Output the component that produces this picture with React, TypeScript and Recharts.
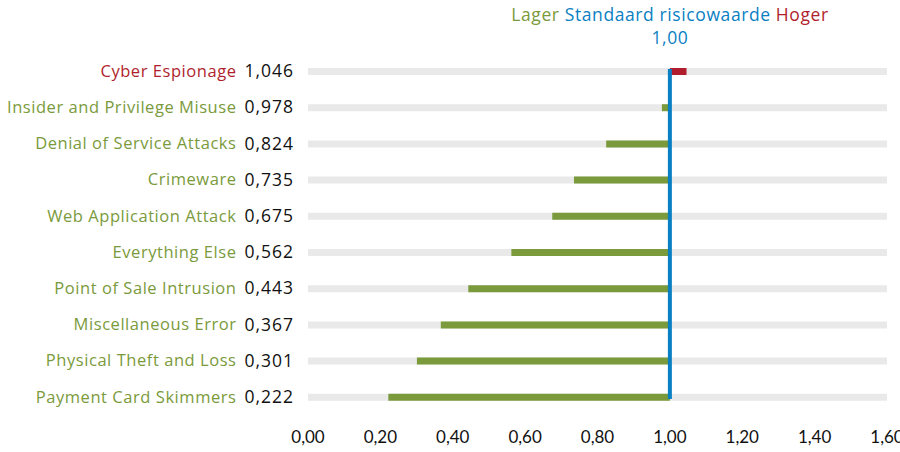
import React from 'react';
import { BarChart, Bar, XAxis, YAxis, Cell, ReferenceLine } from 'recharts';

const categories = [
  'Cyber Espionage',
  'Insider and Privilege Misuse',
  'Denial of Service Attacks',
  'Crimeware',
  'Web Application Attack',
  'Everything Else',
  'Point of Sale Intrusion',
  'Miscellaneous Error',
  'Physical Theft and Loss',
  'Payment Card Skimmers',
];
const values = [1.046, 0.978, 0.824, 0.735, 0.675, 0.562, 0.443, 0.367, 0.301, 0.222];
const xTicks = [0, 0.2, 0.4, 0.6, 0.8, 1.0, 1.2, 1.4, 1.6];
const baseline = 1.0;

const GREEN = '#7a9a3c';
const RED = '#b01e2d';
const BLUE = '#0a80c4';
const GREY = '#e8e9e8';
const FONT = 'Lato, "Open Sans", sans-serif';
const LABEL_FONT = '"Open Sans", Lato, sans-serif';

const data = categories.map((name, i) => ({
  name,
  value: values[i],
  range: [Math.min(values[i], baseline), Math.max(values[i], baseline)],
}));

const fmt = (v: number, d: number) => v.toFixed(d).replace('.', ',');

const YTick = (props: any) => {
  const { x, y, payload, index } = props;
  const v = values[index];
  const color = v > baseline ? RED : GREEN;
  return (
    <g>
      <text
        x={x - 71.5}
        y={y}
        dy="0.35em"
        textAnchor="end"
        fill={color}
        fontSize={16.5}
        letterSpacing={0.55}
        fontFamily={LABEL_FONT}
      >
        {payload.value}
      </text>
      <text
        x={x - 14}
        y={y}
        dy="0.35em"
        textAnchor="end"
        fill="#111"
        fontSize={17.5}
        letterSpacing={1}
        fontFamily={LABEL_FONT}
      >
        {fmt(v, 3)}
      </text>
    </g>
  );
};

export default function App() {
  return (
    <div style={{ position: 'absolute', left: 0, top: 0, width: 900, height: 452, background: '#fff', overflow: 'hidden' }}>
      <div
        style={{
          position: 'absolute',
          left: 470,
          top: 3,
          width: 400,
          textAlign: 'center',
          fontFamily: LABEL_FONT,
          fontSize: 17.5,
          lineHeight: '23px',
          letterSpacing: 0.6,
          whiteSpace: 'nowrap',
        }}
      >
        <div>
          <span style={{ color: GREEN }}>Lager</span>{' '}
          <span style={{ color: BLUE }}>Standaard risicowaarde</span>{' '}
          <span style={{ color: RED }}>Hoger</span>
        </div>
        <div style={{ color: BLUE }}>1,00</div>
      </div>
      <BarChart
        width={900}
        height={452}
        data={data}
        layout="vertical"
        margin={{ top: 53, right: 13, bottom: 7, left: 0 }}
        barSize={7}
      >
        <XAxis
          type="number"
          domain={[0, 1.6]}
          ticks={xTicks}
          tickFormatter={(v: number) => fmt(v, 2)}
          axisLine={false}
          tickLine={false}
          tickSize={6}
          tickMargin={10}
          height={30}
          interval={0}
          tick={{ fill: '#111', fontSize: 17, fontFamily: FONT }}
        />
        <YAxis
          type="category"
          dataKey="name"
          width={308}
          axisLine={false}
          tickLine={false}
          tickSize={0}
          tickMargin={0}
          interval={0}
          tick={<YTick />}
        />
        <Bar dataKey="range" background={{ fill: GREY }} isAnimationActive={false}>
          {data.map((d, i) => (
            <Cell key={i} fill={d.value > baseline ? RED : GREEN} />
          ))}
        </Bar>
        <ReferenceLine
          segment={[
            { x: baseline, y: categories[0] },
            { x: baseline, y: categories[categories.length - 1] },
          ]}
          stroke={BLUE}
          strokeWidth={4}
          strokeLinecap="square"
        />
      </BarChart>
    </div>
  );
}
